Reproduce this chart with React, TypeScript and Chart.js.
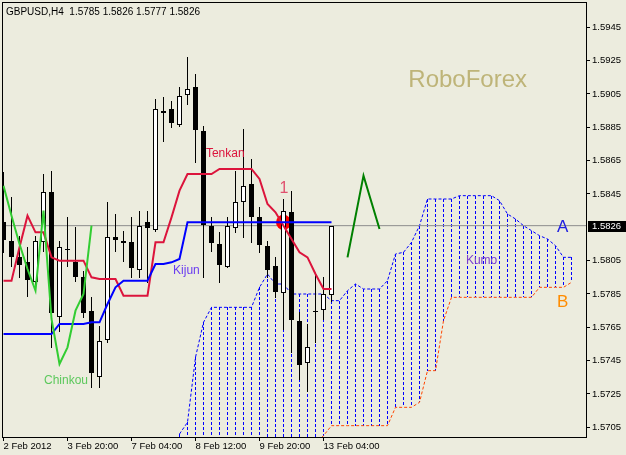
import { useEffect, useRef } from 'react';
import { Chart, registerables } from 'chart.js';

Chart.register(...registerables);

const FONT = "'Liberation Sans', Arial, sans-serif";
const BG = '#ECECDE';

// ---- candles (H4 bars, index 0 = 2 Feb 2012 12:00) ----
const opens = [1.5828, 1.5817, 1.5807, 1.5804, 1.5793, 1.5817, 1.5846, 1.5772, 1.5812, 1.5804, 1.5795, 1.5775, 1.5736, 1.5758, 1.5819, 1.5817, 1.5816, 1.5800, 1.5828, 1.5824, 1.5895, 1.5896, 1.5887, 1.5905, 1.5909, 1.5883, 1.5826, 1.5815, 1.5802, 1.5825, 1.5841, 1.5851, 1.5831, 1.5814, 1.5802, 1.5786, 1.5834, 1.5769, 1.5744, 1.5775, 1.5776, 1.5785];
const highs = [1.5858, 1.5843, 1.5820, 1.5813, 1.5820, 1.5857, 1.5859, 1.5817, 1.5831, 1.5825, 1.5799, 1.5783, 1.5766, 1.5840, 1.5833, 1.5823, 1.5831, 1.5835, 1.5835, 1.5902, 1.5903, 1.5901, 1.5909, 1.5927, 1.5917, 1.5886, 1.5831, 1.5822, 1.5831, 1.5859, 1.5884, 1.5866, 1.5837, 1.5817, 1.5807, 1.5842, 1.5847, 1.5774, 1.5767, 1.5797, 1.5795, 1.5826];
const lows = [1.5810, 1.5802, 1.5795, 1.5784, 1.5787, 1.5811, 1.5753, 1.5763, 1.5802, 1.5793, 1.5771, 1.5729, 1.5729, 1.5756, 1.5811, 1.5805, 1.5795, 1.5795, 1.5792, 1.5823, 1.5877, 1.5885, 1.5886, 1.5899, 1.5864, 1.5795, 1.5811, 1.5792, 1.5801, 1.5822, 1.5819, 1.5816, 1.5810, 1.5795, 1.5783, 1.5764, 1.5750, 1.5734, 1.5727, 1.5756, 1.5770, 1.5781];
const closes = [1.5818, 1.5808, 1.5803, 1.5794, 1.5817, 1.5846, 1.5774, 1.5813, 1.5812, 1.5796, 1.5774, 1.5738, 1.5757, 1.5819, 1.5818, 1.5816, 1.5801, 1.5826, 1.5825, 1.5896, 1.5894, 1.5888, 1.5904, 1.5908, 1.5884, 1.5827, 1.5816, 1.5803, 1.5826, 1.5840, 1.5850, 1.5832, 1.5815, 1.5800, 1.5787, 1.5835, 1.5770, 1.5743, 1.5753, 1.5775, 1.5785, 1.5826];

// ---- Ichimoku lines ----
const tenkan = [1.5793, 1.5793, 1.5813, 1.5832, 1.5822, 1.5822, 1.5807, 1.5805, 1.5805, 1.5805, 1.5805, 1.5795, 1.5794, 1.5794, 1.5794, 1.5784, 1.5784, 1.5784, 1.5784, 1.5816, 1.5816, 1.5831, 1.5847, 1.5857, 1.5857, 1.5857, 1.5857, 1.5860, 1.5860, 1.5860, 1.5860, 1.5860, 1.5854, 1.5839, 1.5834, 1.5826, 1.5818, 1.5810, 1.5807, 1.5797, 1.5788, 1.5788];
const kijun = [1.5761, 1.5761, 1.5761, 1.5761, 1.5761, 1.5761, 1.5761, 1.5767, 1.5767, 1.5767, 1.5767, 1.5768, 1.5768, 1.5779, 1.5789, 1.5793, 1.5793, 1.5793, 1.5793, 1.5803, 1.5803, 1.5804, 1.5806, 1.5828, 1.5828, 1.5828, 1.5828, 1.5828, 1.5828, 1.5828, 1.5828, 1.5828, 1.5828, 1.5828, 1.5828, 1.5828, 1.5828, 1.5828, 1.5828, 1.5828, 1.5828, 1.5828];
const chinkou = [1.5850, 1.5832, 1.5815, 1.5800, 1.5787, 1.5835, 1.5770, 1.5743, 1.5753, 1.5775, 1.5785, 1.5826];
const senkouStart = 22;
const senkouA = [1.5701, 1.5708, 1.5747, 1.5768, 1.5777, 1.5777, 1.5777, 1.5777, 1.5777, 1.5777, 1.5789, 1.5797, 1.5791, 1.5791, 1.5785, 1.5785, 1.5785, 1.5785, 1.5785, 1.5781, 1.5781, 1.5787, 1.5791, 1.5788, 1.5788, 1.5788, 1.5793, 1.5809, 1.5810, 1.5816, 1.5826, 1.5842, 1.5842, 1.5842, 1.5842, 1.5844, 1.5844, 1.5844, 1.5844, 1.5844, 1.5841, 1.5833, 1.5830, 1.5826, 1.5823, 1.5820, 1.5818, 1.5814, 1.5807, 1.5807];
const senkouB = [1.5695, 1.5695, 1.5695, 1.5695, 1.5695, 1.5695, 1.5695, 1.5695, 1.5695, 1.5695, 1.5695, 1.5695, 1.5695, 1.5695, 1.5695, 1.5695, 1.5695, 1.5695, 1.5700, 1.5706, 1.5706, 1.5706, 1.5706, 1.5706, 1.5706, 1.5706, 1.5706, 1.5717, 1.5717, 1.5717, 1.5720, 1.5739, 1.5739, 1.5769, 1.5783, 1.5783, 1.5783, 1.5783, 1.5783, 1.5783, 1.5783, 1.5783, 1.5783, 1.5783, 1.5783, 1.5789, 1.5789, 1.5789, 1.5789, 1.5792];

// ---- drawn objects ----
const arrowX = [43, 45, 47];
const arrowY = [1.5807, 1.5856, 1.5824];
const markX = [35];
const markY = [1.5828];

const noteText = ['Tenkan', 'Kijun', 'Chinkou', 'Kumo', 'A', 'B', '1', 'RoboForex'];
const noteX = [25.3, 21.2, 5.06, 57.8, 69.2, 69.2, 34.5, 50.6];
const noteY = [1.5869, 1.5799, 1.5733, 1.5805, 1.5825, 1.5780, 1.5848, 1.5913];
const noteColor = ['#DC143C', '#6A3CF0', '#5CC85C', '#7A3CD0', '#2020E0', '#FF8C00', '#E0506E', '#BEB478'];
const noteSize = [12, 12, 12, 12, 17, 17, 16, 24];

// ---- axes ----
const dateTickIdx = [0, 8, 16, 24, 32, 40];
const dateTickLabels = ['2 Feb 2012', '3 Feb 20:00', '7 Feb 04:00', '8 Feb 12:00', '9 Feb 20:00', '13 Feb 04:00'];
const priceTicks = [1.5705, 1.5725, 1.5745, 1.5765, 1.5785, 1.5805, 1.5845, 1.5865, 1.5885, 1.5905, 1.5925, 1.5945];
const xMin = -0.1875;
const xMax = 72.8125;
const yMin = 1.56992;
const yMax = 1.59602;
const titleText = 'GBPUSD,H4  1.5785 1.5826 1.5777 1.5826';

const RED_IDX = 4;

function drawCandles(chart: any) {
  const { ctx, chartArea: a, scales } = chart;
  const x = scales.x, y = scales.y;
  ctx.save();
  ctx.beginPath();
  ctx.rect(a.left, a.top, a.right - a.left, a.bottom - a.top);
  ctx.clip();
  for (let i = 0; i < opens.length; i++) {
    const cx = Math.floor(x.getPixelForValue(i));
    const o = opens[i], c = closes[i];
    const yh = Math.round(y.getPixelForValue(highs[i]));
    const yl = Math.round(y.getPixelForValue(lows[i]));
    const yt = Math.round(y.getPixelForValue(Math.max(o, c)));
    const yb = Math.round(y.getPixelForValue(Math.min(o, c)));
    ctx.fillStyle = '#000';
    ctx.fillRect(cx, yh, 1, yl - yh + 1);
    if (c > o) {
      ctx.fillStyle = '#fff';
      ctx.fillRect(cx - 2, yt, 5, yb - yt + 1);
      ctx.strokeStyle = '#000';
      ctx.lineWidth = 1;
      ctx.setLineDash([]);
      ctx.strokeRect(cx - 1.5, yt + 0.5, 4, yb - yt);
    } else {
      ctx.fillRect(cx - 2, yt, 5, yb - yt + 1);
    }
  }
  ctx.restore();
}

const mt4Plugin = {
  id: 'mt4look',
  beforeDraw(chart: any) {
    const { ctx, width, height } = chart;
    ctx.save();
    ctx.fillStyle = BG;
    ctx.fillRect(0, 0, width, height);
    ctx.restore();
  },
  beforeDatasetsDraw(chart: any) {
    const { ctx, chartArea: a, scales } = chart;
    const x = scales.x, y = scales.y;
    ctx.save();
    ctx.beginPath();
    ctx.rect(a.left, a.top, a.right - a.left, a.bottom - a.top);
    ctx.clip();
    ctx.strokeStyle = '#0000FF';
    ctx.lineWidth = 1;
    ctx.setLineDash([3, 2]);
    for (let k = 0; k < senkouA.length; k++) {
      const i = senkouStart + k;
      const px = Math.floor(x.getPixelForValue(i)) + 0.5;
      let top = y.getPixelForValue(Math.max(senkouA[k], senkouB[k]));
      let bot = y.getPixelForValue(Math.min(senkouA[k], senkouB[k]));
      top = Math.max(top, a.top);
      bot = Math.min(bot, a.bottom);
      ctx.beginPath();
      ctx.moveTo(px, Math.round(top));
      ctx.lineTo(px, Math.round(bot));
      ctx.stroke();
    }
    ctx.restore();
  },
  afterDatasetDraw(chart: any, args: any) {
    if (args.index === RED_IDX) drawCandles(chart);
  },
  afterDatasetsDraw(chart: any) {
    const { ctx, chartArea: a, scales } = chart;
    const x = scales.x, y = scales.y;
    ctx.save();
    ctx.textAlign = 'left';
    ctx.textBaseline = 'middle';
    for (let k = 0; k < noteText.length; k++) {
      ctx.font = `${noteSize[k]}px ${FONT}`;
      ctx.fillStyle = noteColor[k];
      ctx.fillText(noteText[k], x.getPixelForValue(noteX[k]), y.getPixelForValue(noteY[k]));
    }
    ctx.strokeStyle = '#000';
    ctx.lineWidth = 1;
    ctx.setLineDash([]);
    ctx.strokeRect(a.left + 0.5, a.top + 0.5, a.right - a.left, a.bottom - a.top);
    ctx.restore();
  },
  afterDraw(chart: any) {
    const { ctx, scales, chartArea: a } = chart;
    const y = scales.y;
    ctx.save();
    ctx.font = `10px ${FONT}`;
    ctx.fillStyle = '#000';
    ctx.textBaseline = 'alphabetic';
    ctx.textAlign = 'left';
    ctx.fillText(titleText, 6, 15);
    const bid = closes[closes.length - 1];
    const py = Math.round(y.getPixelForValue(bid));
    ctx.fillStyle = '#000';
    ctx.fillRect(a.right + 2, py - 5, 40, 11);
    ctx.fillStyle = '#fff';
    ctx.font = `9.5px ${FONT}`;
    ctx.textBaseline = 'middle';
    ctx.fillText(bid.toFixed(4), a.right + 6, py + 0.5);
    ctx.restore();
  },
};

const seq = (vals: number[], start = 0) => vals.map((v, k) => ({ x: start + k, y: v }));

export default function App() {
  const ref = useRef<HTMLCanvasElement | null>(null);
  useEffect(() => {
    if (!ref.current) return;
    const bid = closes[closes.length - 1];
    const line = (data: any[], color: string, width: number, dash: number[] = []) => ({
      type: 'line' as const,
      data,
      borderColor: color,
      backgroundColor: color,
      borderWidth: width,
      borderDash: dash,
      pointRadius: 0,
      tension: 0,
      fill: false,
    });
    const chart = new Chart(ref.current, {
      type: 'line',
      data: {
        datasets: [
          line(arrowX.map((v, k) => ({ x: v, y: arrowY[k] })), '#008000', 2),
          line(seq(chinkou), '#32CD32', 2),
          line(seq(kijun), '#0000FF', 2),
          line(seq(tenkan), '#DC143C', 2),
          {
            type: 'line' as const,
            data: markX.map((v, k) => ({ x: v, y: markY[k] })),
            showLine: false,
            pointRadius: 7.5,
            pointBackgroundColor: '#FF0000',
            pointBorderWidth: 0,
            borderColor: '#FF0000',
          },
          line([{ x: xMin, y: bid }, { x: xMax, y: bid }], '#8C8C8C', 1),
          line(seq(senkouA, senkouStart), '#0000FF', 1, [3, 2]),
          line(seq(senkouB, senkouStart), '#FF4500', 1, [3, 2]),
        ],
      },
      options: {
        animation: false,
        responsive: false,
        devicePixelRatio: 1,
        events: [],
        layout: { autoPadding: false, padding: { left: 2, top: 2, right: 0, bottom: 0 } },
        plugins: { legend: { display: false }, tooltip: { enabled: false }, title: { display: false } },
        scales: {
          x: {
            type: 'linear',
            position: 'bottom',
            min: xMin,
            max: xMax,
            bounds: 'data',
            afterBuildTicks: (s: any) => {
              s.ticks = dateTickIdx.map((v) => ({ value: v }));
            },
            afterFit: (s: any) => {
              s.height = 18;
              s.paddingLeft = 0;
              s.paddingRight = 0;
            },
            grid: { display: true, drawOnChartArea: false, drawTicks: true, tickLength: 4, color: '#000', lineWidth: 1 },
            border: { display: true, color: '#000', width: 1 },
            ticks: {
              color: '#000',
              font: { family: FONT, size: 9.5, lineHeight: 1.2 },
              padding: 0,
              align: 'start',
              autoSkip: false,
              maxRotation: 0,
              minRotation: 0,
              callback: (_v: any, i: number) => dateTickLabels[i],
            },
          },
          y: {
            type: 'linear',
            position: 'right',
            min: yMin,
            max: yMax,
            bounds: 'data',
            afterBuildTicks: (s: any) => {
              s.ticks = priceTicks.map((v) => ({ value: v }));
            },
            afterFit: (s: any) => {
              s.width = 40;
              s.paddingTop = 0;
              s.paddingBottom = 0;
            },
            grid: { display: true, drawOnChartArea: false, drawTicks: true, tickLength: 4, color: '#000', lineWidth: 1 },
            border: { display: true, color: '#000', width: 1 },
            ticks: {
              color: '#000',
              font: { family: FONT, size: 9.5 },
              padding: 2,
              autoSkip: false,
              callback: (v: any) => Number(v).toFixed(4),
            },
          },
        },
      } as any,
      plugins: [mt4Plugin],
    });
    return () => chart.destroy();
  }, []);

  return (
    <div style={{ position: 'absolute', left: 0, top: 0, width: 626, height: 455, background: BG }}>
      <canvas ref={ref} width={626} height={455} style={{ display: 'block', width: 626, height: 455 }} />
    </div>
  );
}
